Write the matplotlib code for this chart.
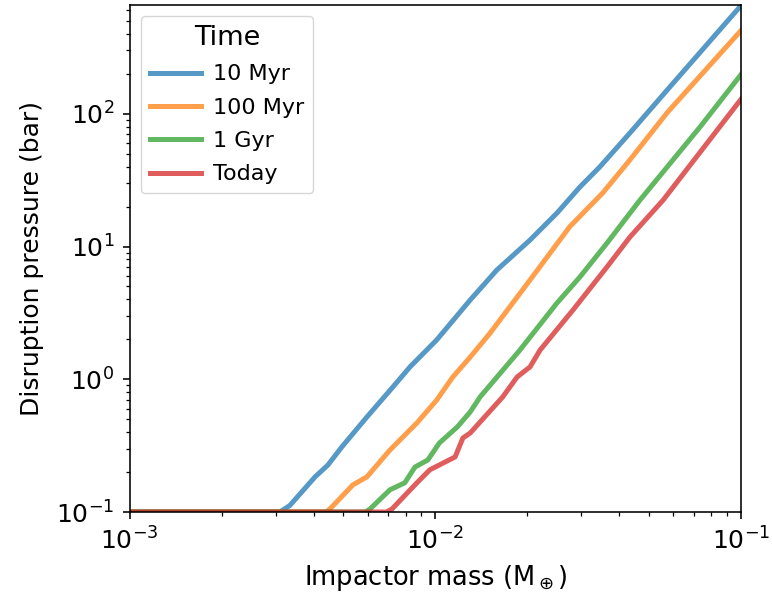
import matplotlib
matplotlib.use('Agg')
import matplotlib.pyplot as plt

# impactor mass (Earth masses) and disruption pressure (bar)
mass_10myr = [1e-3, 3.10e-3, 3.34e-3, 4.04e-3, 4.45e-3, 4.94e-3, 5.97e-3, 7.21e-3, 8.26e-3,
              1.01e-2, 1.30e-2, 1.59e-2, 2.04e-2, 2.50e-2, 2.97e-2, 3.45e-2, 4.33e-2,
              5.73e-2, 1e-1]
p_10myr = [0.1, 0.1, 0.112, 0.184, 0.226, 0.309, 0.52, 0.859, 1.24,
           1.98, 3.96, 6.67, 11.2, 17.9, 28.1, 39.8, 71.8, 151, 655]

mass_100myr = [1e-3, 4.40e-3, 4.60e-3, 5.37e-3, 5.97e-3, 7.10e-3, 8.70e-3, 1.01e-2, 1.14e-2,
               1.30e-2, 1.51e-2, 2.04e-2, 2.75e-2, 3.53e-2, 4.33e-2, 5.73e-2, 1e-1]
p_100myr = [0.1, 0.1, 0.11, 0.16, 0.184, 0.293, 0.469, 0.698, 1.04,
            1.47, 2.23, 5.6, 14.1, 25.4, 45.0, 102, 425]

mass_1gyr = [1e-3, 5.90e-3, 6.10e-3, 7.10e-3, 7.94e-3, 8.57e-3, 9.45e-3, 1.03e-2, 1.18e-2,
             1.30e-2, 1.40e-2, 1.89e-2, 2.50e-2, 2.97e-2, 3.64e-2, 4.67e-2, 7.34e-2, 1e-1]
p_1gyr = [0.1, 0.1, 0.105, 0.147, 0.166, 0.218, 0.247, 0.331, 0.438,
          0.568, 0.736, 1.66, 3.76, 5.9, 10.6, 22.4, 79.6, 198]

mass_today = [1e-3, 6.90e-3, 7.20e-3, 8.70e-3, 9.59e-3, 1.06e-2, 1.16e-2, 1.23e-2, 1.30e-2,
              1.66e-2, 1.85e-2, 2.04e-2, 2.20e-2, 2.82e-2, 3.64e-2, 4.33e-2, 5.56e-2, 1e-1]
p_today = [0.1, 0.1, 0.105, 0.166, 0.208, 0.234, 0.26, 0.361, 0.394,
           0.736, 1.04, 1.24, 1.66, 3.33, 7.01, 11.8, 22.4, 129]

labels = ['10 Myr', '100 Myr', '1 Gyr', 'Today']
colors = ['tab:blue', 'tab:orange', 'tab:green', 'tab:red']

fig, ax = plt.subplots(figsize=(7.72, 5.94), dpi=100)
series = [(mass_10myr, p_10myr), (mass_100myr, p_100myr),
          (mass_1gyr, p_1gyr), (mass_today, p_today)]
for (m, p), lab, c in zip(series, labels, colors):
    ax.plot(m, p, color=c, lw=3.6, alpha=0.75, label=lab)

ax.set_xscale('log')
ax.set_yscale('log')
ax.set_xlim(1e-3, 1e-1)
ax.set_ylim(1e-1, 660)
for s in ax.spines.values():
    s.set_linewidth(1.15)
ax.tick_params(which='major', labelsize=18, length=5, width=1.15, pad=6)
ax.tick_params(which='minor', length=2.9, width=0.9)
ax.set_xlabel(r'Impactor mass (M$_\oplus$)', fontsize=18.5, labelpad=6)
ax.set_ylabel('Disruption pressure (bar)', fontsize=18, labelpad=9)
leg = ax.legend(title='Time', fontsize=16, title_fontsize=19.5, loc='upper left',
                handlelength=2.3, handletextpad=0.55, labelspacing=0.6)

plt.subplots_adjust(left=0.168, right=0.96, bottom=0.138, top=0.9916)
plt.savefig('out.png')
